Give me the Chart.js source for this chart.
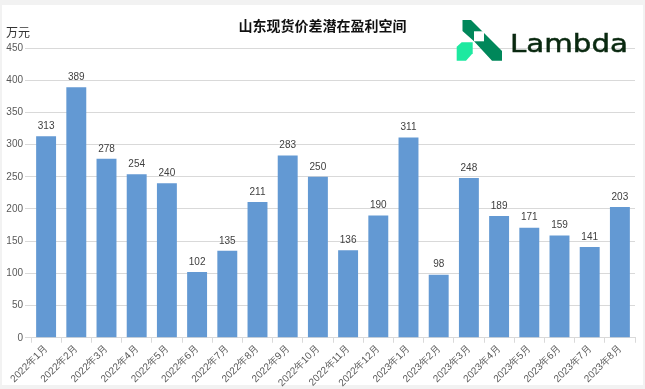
<!DOCTYPE html>
<html><head><meta charset="utf-8">
<script src="https://cdn.jsdelivr.net/npm/chart.js@4.4.0/dist/chart.umd.min.js"></script>
<style>
html,body{margin:0;padding:0;background:#f2f2f2;}
#wrap{position:absolute;left:2px;top:5px;width:641px;height:380px;background:#fff;}
#c{position:absolute;left:0;top:0;}
#title{position:absolute;left:0;width:645px;top:15px;text-align:center;font:bold 14px "Noto Sans CJK SC",sans-serif;color:#111;}
#unit{position:absolute;left:6px;top:23px;font:12px "Noto Sans CJK SC",sans-serif;color:#333;}
#logo{position:absolute;left:455px;top:16px;}
</style></head><body>
<div id="wrap"></div>
<canvas id="c" width="645" height="389"></canvas>
<div id="title">山东现货价差潜在盈利空间</div>
<div id="unit">万元</div>
<svg id="logo" width="180" height="48" viewBox="0 0 180 48">
  <polygon points="7.5,4 16,4 47,35 47,44.7 37,44.7 19,25.3 7.5,15" fill="#00875a"/>
  <rect x="19" y="15.3" width="10" height="10" fill="#fff"/>
  <polygon points="1.7,30.7 6.7,26.3 17.7,26.3 17.7,37.3 11,44.7 1.7,44.7" fill="#1de9a0"/>
  <text x="55" y="36.3" font-family="DejaVu Sans" font-size="25" fill="#0a2910" stroke="#0a2910" stroke-width="0.5" textLength="118" lengthAdjust="spacingAndGlyphs">Lambda</text>
</svg>
<script>
const categories = ["2022年1月","2022年2月","2022年3月","2022年4月","2022年5月","2022年6月","2022年7月","2022年8月","2022年9月","2022年10月","2022年11月","2022年12月","2023年1月","2023年2月","2023年3月","2023年4月","2023年5月","2023年6月","2023年7月","2023年8月"];
const values = [313,389,278,254,240,102,135,211,283,250,136,190,311,98,248,189,171,159,141,203];
const yTicks = [0,50,100,150,200,250,300,350,400,450];

const labelPlugin = {
  id:'barLabels',
  afterDatasetsDraw(chart){
    const ctx = chart.ctx;
    const meta = chart.getDatasetMeta(0);
    ctx.save();
    ctx.font = '10px "Liberation Sans", Arial, sans-serif';
    ctx.fillStyle = '#404040';
    ctx.textAlign = 'center';
    ctx.textBaseline = 'bottom';
    meta.data.forEach((bar,i)=>{
      ctx.fillText(String(values[i]), bar.x, bar.y - 5);
    });
    ctx.restore();
  }
};

new Chart(document.getElementById('c'), {
  type:'bar',
  data:{labels:categories, datasets:[{data:values, backgroundColor:'#6399d3', categoryPercentage:0.66, barPercentage:1.0}]},
  options:{
    responsive:false, animation:false,
    layout:{padding:{top:48,right:10,left:0,bottom:0}},
    plugins:{legend:{display:false}, title:{display:false}, tooltip:{enabled:false}},
    scales:{
      x:{
        grid:{offset:true, drawOnChartArea:false, drawTicks:true, tickLength:5, color:'#d9d9d9'},
        border:{color:'#d9d9d9'},
        ticks:{maxRotation:45, minRotation:45, autoSkip:false, color:'#595959', font:{size:10, family:'"Liberation Sans", Arial, sans-serif'}, padding:0}
      },
      y:{
        min:0, max:450,
        afterBuildTicks(axis){ axis.ticks = yTicks.map(v=>({value:v})); },
        afterFit(axis){ axis.width = 31; },
        grid:{color:'#d9d9d9', drawTicks:true, tickLength:6},
        border:{display:false},
        ticks:{color:'#595959', font:{size:10, family:'"Liberation Sans", Arial, sans-serif'}, padding:2}
      }
    }
  },
  plugins:[labelPlugin]
});
</script>
</body></html>
